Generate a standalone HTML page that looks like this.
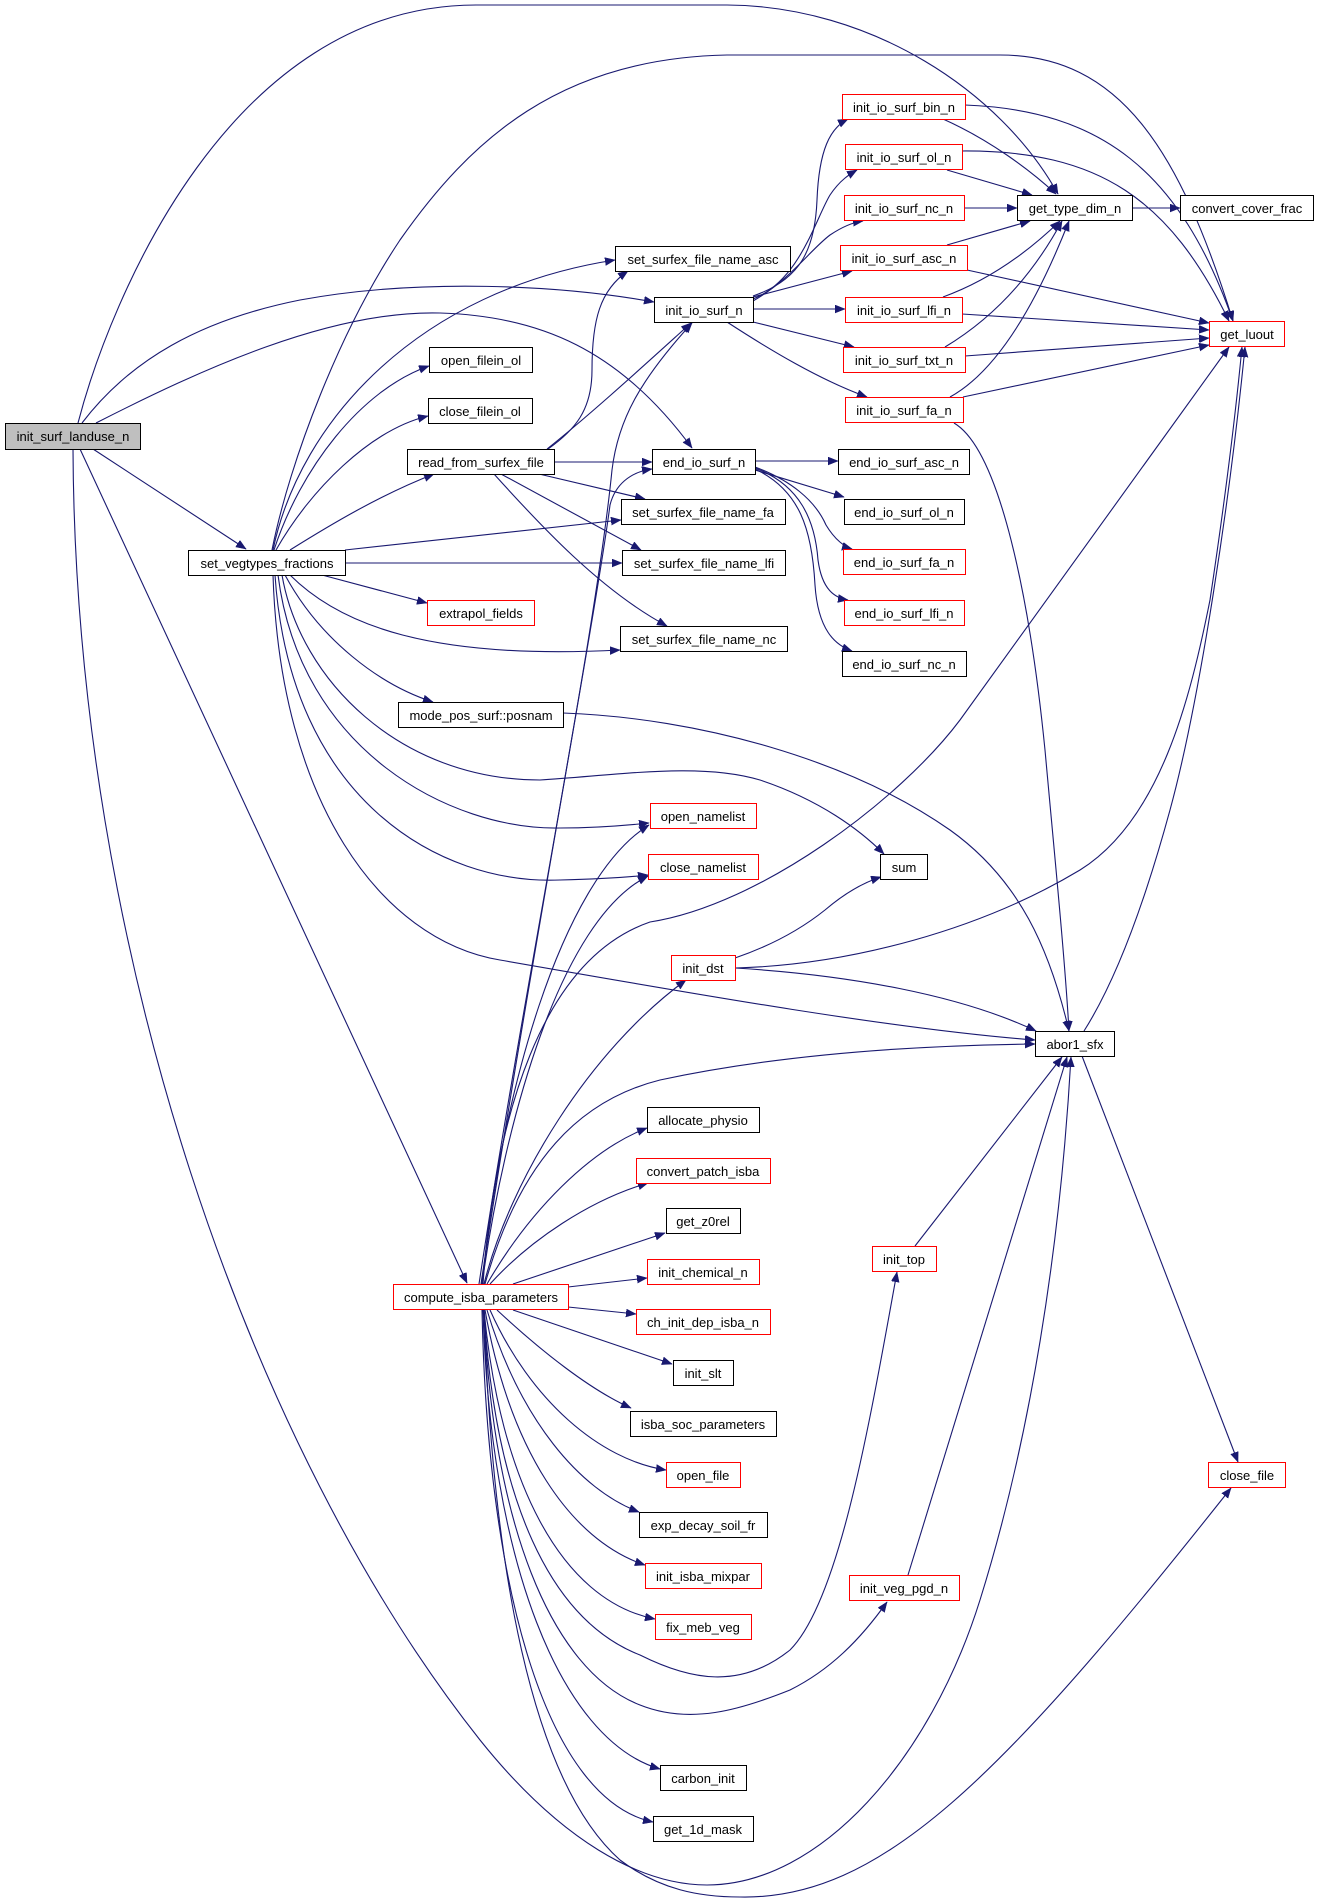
<!DOCTYPE html>
<html>
<head>
<meta charset="utf-8">
<style>
html,body{margin:0;padding:0;background:#fff;}
svg{display:block;}
text{font-family:"Liberation Sans",Arial,Helvetica,sans-serif;font-size:13px;fill:#000;text-anchor:middle;}
.n{fill:#fff;stroke:#000;stroke-width:1;}
.r{fill:#fff;stroke:#ff0000;stroke-width:1;}
.g{fill:#bfbfbf;stroke:#000;stroke-width:1;}
</style>
</head>
<body>
<svg width="1319" height="1903" viewBox="0 0 1319 1903" xmlns="http://www.w3.org/2000/svg">
<defs>
<marker id="a" markerUnits="userSpaceOnUse" markerWidth="11" markerHeight="9" refX="10" refY="4" orient="auto">
<path d="M0,0 L10,4 L0,8 z" fill="#191970" stroke="#191970" stroke-width="0.5"/>
</marker>
</defs>
<rect width="1319" height="1903" fill="#fff"/>
<g fill="none" stroke="#191970" stroke-width="1.1" marker-end="url(#a)">
<path d="M78,423 C110,300 230,5 476,5 L727,5 C870,6 1000,90 1058,194"/>
<path d="M272,550 C290,460 340,330 400,240 C470,140 560,58 727,55 L1000,55 C1120,55 1180,150 1233,321"/>
<path d="M82,423 C130,360 200,320 300,300 C420,278 560,285 654,302"/>
<path d="M96,423 C200,370 330,310 440,313 C540,316 620,350 692,448"/>
<path d="M93,449 L246,549"/>
<path d="M80,449 L467,1283"/>
<path d="M73,449 C75,950 250,1450 480,1740 C560,1840 640,1885 707,1885 C820,1885 930,1760 980,1600 C1030,1440 1060,1250 1071,1057"/>
<path d="M484,1310 C492,1560 530,1780 620,1860 C660,1890 700,1897 740,1897 C880,1900 1000,1780 1231,1488"/>
<path d="M479,1284 C525,980 595,640 612,470 C618,420 640,380 692,323"/>
<path d="M481,1284 C525,990 595,620 610,505 C615,485 630,472 652,469"/>
<path d="M483,1284 C495,1120 540,960 650,922 C760,905 900,800 960,720 L1229,347"/>
<path d="M482,1284 C500,1100 560,880 649,825"/>
<path d="M482,1284 C505,1120 560,920 648,876"/>
<path d="M484,1284 C510,1180 590,1050 686,980"/>
<path d="M485,1284 C520,1160 580,1100 660,1080 C800,1050 950,1045 1035,1044"/>
<path d="M487,1284 C530,1210 590,1150 647,1128"/>
<path d="M490,1284 C530,1240 590,1200 648,1183"/>
<path d="M513,1284 L665,1233"/>
<path d="M568,1287 L647,1278"/>
<path d="M568,1307 L636,1314"/>
<path d="M513,1310 L672,1364"/>
<path d="M497,1310 C540,1350 590,1390 631,1408"/>
<path d="M490,1310 C530,1400 600,1460 666,1470"/>
<path d="M487,1310 C520,1420 580,1490 639,1512"/>
<path d="M485,1310 C510,1450 570,1540 645,1565"/>
<path d="M484,1310 C500,1480 560,1600 655,1619"/>
<path d="M484,1310 C495,1500 550,1620 640,1655 C690,1680 740,1690 790,1650 C840,1600 870,1420 897,1272"/>
<path d="M484,1310 C492,1520 550,1670 640,1705 C690,1725 740,1710 790,1690 C830,1670 860,1640 887,1602"/>
<path d="M483,1310 C490,1560 560,1740 660,1769"/>
<path d="M482,1310 C488,1600 550,1800 653,1822"/>
<path d="M735,958 C770,946 800,930 825,910 C845,893 865,882 881,877"/>
<path d="M282,575 C300,680 400,780 540,780 C620,775 700,762 760,780 C820,800 860,830 884,854"/>
<path d="M278,575 C300,750 450,830 560,828 C600,828 630,825 649,823"/>
<path d="M275,575 C290,800 440,885 560,880 C600,879 630,877 648,875"/>
<path d="M273,575 C280,800 380,940 500,960 C700,995 900,1030 1035,1040"/>
<path d="M285,575 C320,640 380,685 433,702"/>
<path d="M290,575 C340,625 430,660 620,650"/>
<path d="M322,575 L427,603"/>
<path d="M345,563 L622,563"/>
<path d="M345,550 L621,520"/>
<path d="M290,550 C330,525 380,495 434,474"/>
<path d="M276,550 C310,490 370,430 428,416"/>
<path d="M274,550 C300,470 360,390 429,366"/>
<path d="M273,550 C300,420 420,290 615,260"/>
<path d="M548,449 C575,430 592,410 592,370 C592,320 600,290 628,271"/>
<path d="M547,449 C590,415 650,360 691,323"/>
<path d="M554,462 L652,462"/>
<path d="M539,474 L645,499"/>
<path d="M501,474 L641,550"/>
<path d="M494,474 C540,525 600,590 667,626"/>
<path d="M753,296 C800,280 815,250 817,200 C819,150 830,128 848,119"/>
<path d="M753,299 C800,280 815,220 830,195 C840,180 850,174 857,170"/>
<path d="M753,301 C790,280 810,250 830,235 C845,225 855,222 863,221"/>
<path d="M753,297 L852,271"/>
<path d="M753,309 L845,309"/>
<path d="M753,322 L854,347"/>
<path d="M727,322 C770,350 820,380 867,397"/>
<path d="M943,119 C990,140 1030,170 1056,194"/>
<path d="M947,170 L1032,195"/>
<path d="M964,208 L1017,208"/>
<path d="M947,245 L1030,221"/>
<path d="M943,297 C990,280 1030,250 1060,221"/>
<path d="M945,347 C990,320 1030,280 1062,221"/>
<path d="M950,397 C990,375 1030,320 1069,221"/>
<path d="M965,105 C1100,110 1180,170 1233,321"/>
<path d="M962,151 C1100,150 1170,200 1229,321"/>
<path d="M967,270 L1209,323"/>
<path d="M962,314 L1209,330"/>
<path d="M965,356 L1209,338"/>
<path d="M963,397 L1209,345"/>
<path d="M1132,208 L1180,208"/>
<path d="M954,423 C1000,450 1030,600 1045,750 C1055,860 1065,960 1069,1031"/>
<path d="M755,461 L838,461"/>
<path d="M755,470 L844,497"/>
<path d="M755,467 C790,480 815,500 826,525 C835,540 845,547 852,549"/>
<path d="M755,468 C800,485 815,520 818,560 C822,590 835,598 848,600"/>
<path d="M755,469 C800,490 812,530 815,585 C818,630 835,645 852,651"/>
<path d="M563,713 C700,718 850,760 950,830 C1020,880 1050,950 1069,1031"/>
<path d="M735,968 C850,965 980,930 1080,870 C1160,820 1190,700 1210,600 C1225,500 1235,420 1242,347"/>
<path d="M735,968 C850,975 960,995 1036,1031"/>
<path d="M1084,1031 C1110,990 1140,920 1170,810 C1200,700 1230,500 1245,347"/>
<path d="M1082,1056 L1238,1462"/>
<path d="M915,1246 L1062,1057"/>
<path d="M908,1575 L1067,1057"/>
</g>

<g>
<rect class="g" x="5.5" y="423.5" width="135" height="26"/><text x="73" y="441">init_surf_landuse_n</text>
<rect class="n" x="188.5" y="550.5" width="157" height="25"/><text x="267" y="568">set_vegtypes_fractions</text>
<rect class="n" x="429.5" y="347.5" width="103" height="25"/><text x="481" y="365">open_filein_ol</text>
<rect class="n" x="428.5" y="398.5" width="104" height="25"/><text x="480" y="416">close_filein_ol</text>
<rect class="n" x="407.5" y="449.5" width="147" height="25"/><text x="481" y="467">read_from_surfex_file</text>
<rect class="r" x="427.5" y="600.5" width="107" height="25"/><text x="481" y="618">extrapol_fields</text>
<rect class="n" x="398.5" y="702.5" width="165" height="25"/><text x="481" y="720">mode_pos_surf::posnam</text>
<rect class="r" x="393.5" y="1284.5" width="175" height="25"/><text x="481" y="1302">compute_isba_parameters</text>
<rect class="n" x="615.5" y="246.5" width="175" height="25"/><text x="703" y="264">set_surfex_file_name_asc</text>
<rect class="n" x="654.5" y="297.5" width="99" height="25"/><text x="704" y="315">init_io_surf_n</text>
<rect class="n" x="652.5" y="449.5" width="103" height="25"/><text x="704" y="467">end_io_surf_n</text>
<rect class="n" x="621.5" y="499.5" width="164" height="25"/><text x="703" y="517">set_surfex_file_name_fa</text>
<rect class="n" x="622.5" y="550.5" width="163" height="25"/><text x="704" y="568">set_surfex_file_name_lfi</text>
<rect class="n" x="620.5" y="626.5" width="167" height="25"/><text x="704" y="644">set_surfex_file_name_nc</text>
<rect class="r" x="650.5" y="803.5" width="106" height="25"/><text x="703" y="821">open_namelist</text>
<rect class="r" x="648.5" y="854.5" width="110" height="25"/><text x="703" y="872">close_namelist</text>
<rect class="r" x="671.5" y="955.5" width="64" height="25"/><text x="703" y="973">init_dst</text>
<rect class="n" x="647.5" y="1107.5" width="112" height="25"/><text x="703" y="1125">allocate_physio</text>
<rect class="r" x="636.5" y="1158.5" width="134" height="25"/><text x="703" y="1176">convert_patch_isba</text>
<rect class="n" x="666.5" y="1208.5" width="74" height="25"/><text x="703" y="1226">get_z0rel</text>
<rect class="r" x="647.5" y="1259.5" width="112" height="25"/><text x="703" y="1277">init_chemical_n</text>
<rect class="r" x="636.5" y="1309.5" width="134" height="25"/><text x="703" y="1327">ch_init_dep_isba_n</text>
<rect class="n" x="673.5" y="1360.5" width="60" height="25"/><text x="703" y="1378">init_slt</text>
<rect class="n" x="630.5" y="1411.5" width="146" height="25"/><text x="703" y="1429">isba_soc_parameters</text>
<rect class="r" x="666.5" y="1462.5" width="74" height="25"/><text x="703" y="1480">open_file</text>
<rect class="n" x="639.5" y="1512.5" width="128" height="25"/><text x="703" y="1530">exp_decay_soil_fr</text>
<rect class="r" x="645.5" y="1563.5" width="116" height="25"/><text x="703" y="1581">init_isba_mixpar</text>
<rect class="r" x="655.5" y="1614.5" width="96" height="25"/><text x="703" y="1632">fix_meb_veg</text>
<rect class="n" x="660.5" y="1765.5" width="86" height="25"/><text x="703" y="1783">carbon_init</text>
<rect class="n" x="653.5" y="1816.5" width="100" height="25"/><text x="703" y="1834">get_1d_mask</text>
<rect class="r" x="842.5" y="94.5" width="123" height="25"/><text x="904" y="112">init_io_surf_bin_n</text>
<rect class="r" x="845.5" y="144.5" width="117" height="25"/><text x="904" y="162">init_io_surf_ol_n</text>
<rect class="r" x="844.5" y="195.5" width="120" height="25"/><text x="904" y="213">init_io_surf_nc_n</text>
<rect class="r" x="840.5" y="245.5" width="127" height="25"/><text x="904" y="263">init_io_surf_asc_n</text>
<rect class="r" x="845.5" y="297.5" width="117" height="25"/><text x="904" y="315">init_io_surf_lfi_n</text>
<rect class="r" x="843.5" y="347.5" width="122" height="25"/><text x="904" y="365">init_io_surf_txt_n</text>
<rect class="r" x="845.5" y="397.5" width="118" height="25"/><text x="904" y="415">init_io_surf_fa_n</text>
<rect class="n" x="838.5" y="449.5" width="131" height="25"/><text x="904" y="467">end_io_surf_asc_n</text>
<rect class="n" x="844.5" y="499.5" width="120" height="25"/><text x="904" y="517">end_io_surf_ol_n</text>
<rect class="r" x="843.5" y="549.5" width="122" height="25"/><text x="904" y="567">end_io_surf_fa_n</text>
<rect class="r" x="844.5" y="600.5" width="120" height="25"/><text x="904" y="618">end_io_surf_lfi_n</text>
<rect class="n" x="842.5" y="651.5" width="124" height="25"/><text x="904" y="669">end_io_surf_nc_n</text>
<rect class="n" x="880.5" y="854.5" width="47" height="25"/><text x="904" y="872">sum</text>
<rect class="r" x="872.5" y="1246.5" width="64" height="25"/><text x="904" y="1264">init_top</text>
<rect class="r" x="849.5" y="1575.5" width="110" height="25"/><text x="904" y="1593">init_veg_pgd_n</text>
<rect class="n" x="1017.5" y="195.5" width="115" height="25"/><text x="1075" y="213">get_type_dim_n</text>
<rect class="n" x="1180.5" y="195.5" width="133" height="25"/><text x="1247" y="213">convert_cover_frac</text>
<rect class="r" x="1209.5" y="321.5" width="75" height="25"/><text x="1247" y="339">get_luout</text>
<rect class="n" x="1035.5" y="1031.5" width="79" height="25"/><text x="1075" y="1049">abor1_sfx</text>
<rect class="r" x="1208.5" y="1462.5" width="77" height="25"/><text x="1247" y="1480">close_file</text>
</g>
</svg>
</body>
</html>
